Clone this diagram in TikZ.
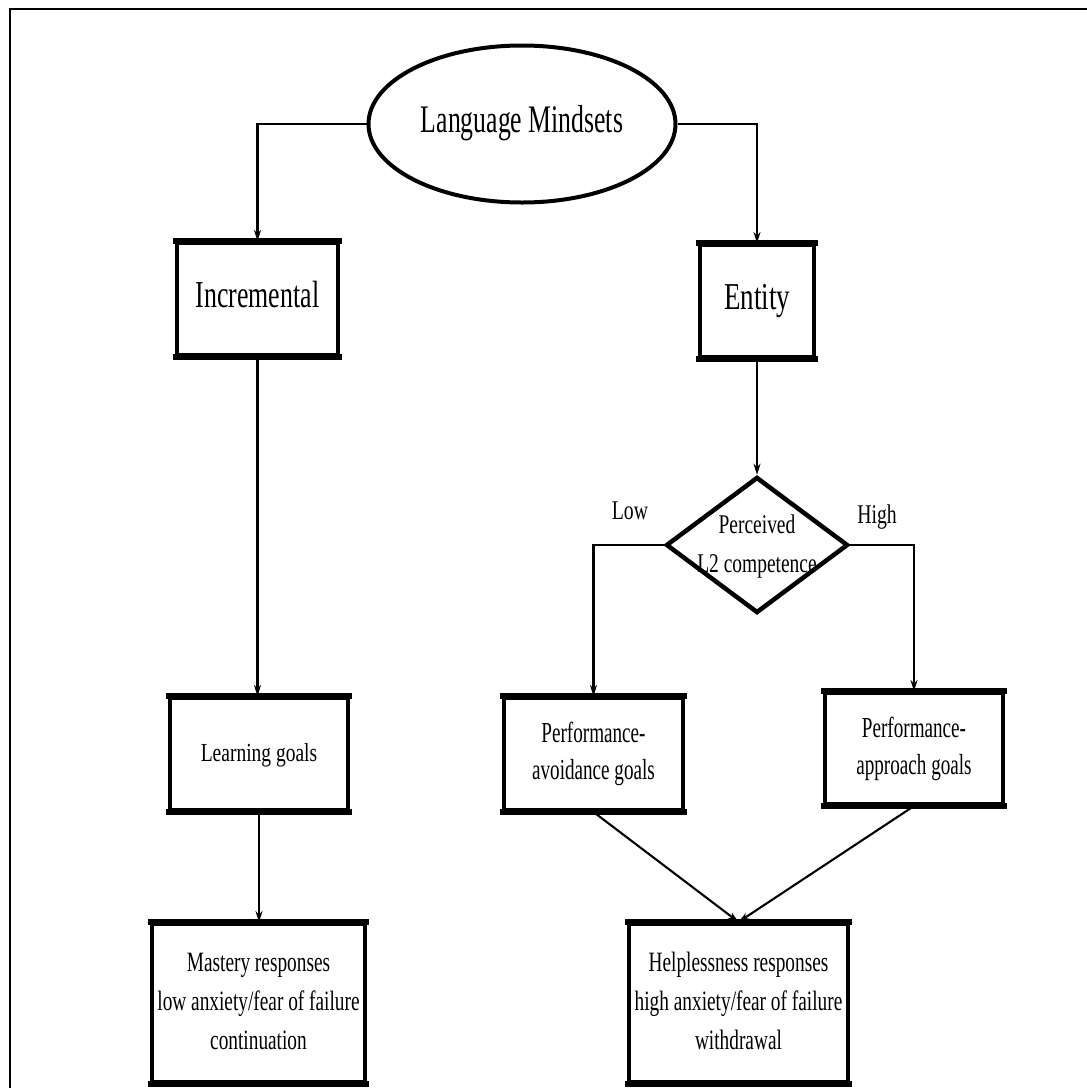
\documentclass[tikz,border=0pt]{standalone}
\usepackage{fontspec}
\setmainfont{Liberation Serif}
\usepackage{graphicx}
\usetikzlibrary{shapes.geometric,arrows.meta}
\newcommand{\tx}[4]{{\fontsize{#1}{#2}\selectfont\scalebox{#3}[1]{\begin{tabular}{@{}c@{}}#4\end{tabular}}}}
\begin{document}
\begin{tikzpicture}[x=1pt,y=-1pt,
  box/.style={draw, line width=4pt, rectangle, inner sep=0pt},
  conn/.style={line width=2.1pt, -{Stealth[length=11pt,width=7pt]}},
  lbl/.style={inner sep=0pt}]
\useasboundingbox (0,0) rectangle (1087,1088);
\fill[white] (0,0) rectangle (1087,1088);
% frame (top and left only)
\coordinate (btl) at (10,9);
\coordinate (btr) at (1087,9);
\coordinate (bbl) at (10,1088);
\draw[line width=2.8pt] (btr) -- (btl) -- (bbl);

% nodes
\node[draw, ellipse, line width=4pt, inner sep=0pt, minimum width=307pt, minimum height=157pt] (lm) at (522,124) {\tx{39}{44}{0.66}{Language Mindsets}};
\node[box, minimum width=161pt, minimum height=112pt] (inc) at (257.5,299) {\tx{38}{44}{0.68}{Incremental}\hspace{20pt}};
\node[box, minimum width=114pt, minimum height=112pt] (ent) at (757,301) {\tx{38}{44}{0.71}{Entity}};
\node[draw, diamond, line width=4.5pt, inner sep=0pt, minimum width=182pt, minimum height=136pt,
      label={[lbl]center:\tx{27}{39}{0.72}{Perceived\\L2 competence}}] (dia) at (757,545) {};
\node[lbl] (low) at (630,513) {\tx{27}{30}{0.73}{Low}};
\node[lbl] (high) at (877,517) {\tx{27}{30}{0.73}{High}};
\node[box, minimum width=178pt, minimum height=112pt] (learn) at (259,754) {\tx{26}{36}{0.75}{Learning goals}};
\node[box, minimum width=179pt, minimum height=112pt] (avoid) at (593.5,754) {\tx{29}{37}{0.66}{Performance-\\avoidance goals}};
\node[box, minimum width=178pt, minimum height=111pt] (appr) at (914,748.5) {\tx{29}{37}{0.66}{Performance-\\approach goals}};
\node[box, minimum width=213pt, minimum height=158pt] (mast) at (258.5,1003) {\tx{28}{39}{0.69}{Mastery responses\\low anxiety/fear of failure\\continuation}};
\node[box, minimum width=219pt, minimum height=158pt] (help) at (738.5,1003) {\tx{28}{39}{0.69}{Helplessness responses\\high anxiety/fear of failure\\withdrawal}};

% thicker top/bottom edges of boxes
\foreach \n in {inc,ent,learn,avoid,appr,mast,help}{
  \draw[line width=6pt, shorten <=-2pt, shorten >=-2pt] (\n.north west) -- (\n.north east);
  \draw[line width=6pt, shorten <=-2pt, shorten >=-2pt] (\n.south west) -- (\n.south east);
}

% connectors
\draw[conn] (lm.west) -| (inc.north);
\draw[conn] (lm.east) -| (ent.north);
\draw[conn] (ent.south) -- (dia.north);
\draw[conn] (dia.west) -| (avoid.north);
\draw[conn] (dia.east) -| (appr.north);
\draw[conn] (inc.south) -- (inc.south |- learn.north);
\draw[conn] (learn.south) -- (learn.south |- mast.north);
\draw[conn] (avoid.south) -- (help.north);
\draw[conn] (appr.south) -- (help.north);
\end{tikzpicture}
\end{document}
